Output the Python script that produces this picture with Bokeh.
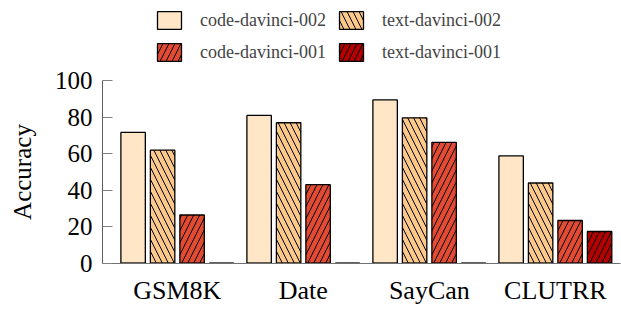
import numpy as np
from bokeh.plotting import figure
from bokeh.layouts import column
from bokeh.models import Range1d, FixedTicker, Legend, LegendItem, ColumnDataSource
from bokeh.transform import dodge
from bokeh.embed import file_html
from bokeh.resources import INLINE

categories = ["GSM8K", "Date", "SayCan", "CLUTRR"]
series_names = ["code-davinci-002", "text-davinci-002", "code-davinci-001", "text-davinci-001"]
code_davinci_002 = [71.6, 80.9, 89.4, 58.8]
text_davinci_002 = [62.0, 76.9, 79.6, 44.0]
code_davinci_001 = [26.5, 43.1, 66.2, 23.5]
text_davinci_001 = [0.0, 0.0, 0.0, 17.5]
y_ticks = [0, 20, 40, 60, 80, 100]

colors = ["#fee6c6", "#fdc98a", "#e34a33", "#b30000"]
hatches = [" ", "\\", "/", "/"]

xpos = np.arange(len(categories)) + 0.5
src = ColumnDataSource(dict(x=xpos, base=np.zeros(len(categories)),
                            s0=code_davinci_002, s1=text_davinci_002,
                            s2=code_davinci_001, s3=text_davinci_001))

SERIF = "Liberation Serif"
bar_style = [dict(fill_color=colors[i], line_color="black", line_width=1.3,
                  hatch_pattern=hatches[i], hatch_color="black", hatch_scale=12, hatch_weight=1)
             for i in range(4)]

# ---- main chart ----
p = figure(width=621, height=243, output_backend="svg", toolbar_location=None,
           x_range=Range1d(-0.094, 4.017), y_range=Range1d(0, 100),
           min_border_left=102, min_border_right=1, min_border_top=14, min_border_bottom=46)
p.outline_line_color = None
p.xgrid.visible = False
p.ygrid.visible = False

bw = 0.194
step = 0.234
offsets = [-1.5 * step, -0.5 * step, 0.5 * step, 1.5 * step]
for i in range(4):
    p.vbar(x=dodge("x", offsets[i], range=p.x_range), top="s%d" % i, bottom=0, width=bw,
           source=src, **bar_style[i])
    # bottom edge of every bar (visible also for zero-height bars)
    p.segment(x0=dodge("x", offsets[i] - bw / 2, range=p.x_range), y0="base",
              x1=dodge("x", offsets[i] + bw / 2, range=p.x_range), y1="base",
              source=src, line_color="black", line_width=2.2)

p.xaxis.ticker = FixedTicker(ticks=list(xpos))
p.xaxis.major_label_overrides = {float(x): c for x, c in zip(xpos, categories)}
p.xaxis.major_tick_line_color = None
p.xaxis.minor_tick_line_color = None
p.xaxis.axis_line_color = "#707070"
p.xaxis.major_label_standoff = 6
p.xaxis.major_label_text_font = SERIF
p.xaxis.major_label_text_font_size = "26px"
p.xaxis.major_label_text_color = "black"

p.yaxis.ticker = FixedTicker(ticks=y_ticks)
p.yaxis.minor_tick_line_color = None
p.yaxis.major_tick_in = 10
p.yaxis.major_tick_out = 0
p.yaxis.major_tick_line_color = "#808080"
p.yaxis.axis_line_color = "#606060"
p.yaxis.major_label_standoff = 10
p.yaxis.major_label_text_font = SERIF
p.yaxis.major_label_text_font_size = "25px"
p.yaxis.major_label_text_color = "black"
p.yaxis.axis_label = "Accuracy"
p.yaxis.axis_label_text_font = SERIF
p.yaxis.axis_label_text_font_size = "25px"
p.yaxis.axis_label_text_font_style = "normal"
p.yaxis.axis_label_text_color = "black"
p.yaxis.axis_label_standoff = 16

# ---- legend strip ----
lf = figure(width=621, height=66, output_backend="svg", toolbar_location=None,
            x_range=Range1d(0, 1), y_range=Range1d(0, 1),
            min_border=0, x_axis_type=None, y_axis_type=None)
lf.outline_line_color = None
lf.xgrid.visible = False
lf.ygrid.visible = False
hidden = ColumnDataSource(dict(x=[np.nan], top=[np.nan]))  # nothing drawn, only legend swatches
legend_renderers = [lf.vbar(x="x", top="top", bottom=0, width=0.01, source=hidden, **bar_style[i])
                    for i in range(4)]
legend = Legend(items=[LegendItem(label=series_names[i], renderers=[legend_renderers[i]]) for i in range(4)],
                orientation="horizontal", ncols=2,
                location=(52, 3), padding=0, margin=0, spacing=10,
                label_text_font=SERIF, label_text_font_size="18px",
                label_standoff=16, glyph_width=30, glyph_height=22, label_height=18,
                border_line_alpha=0, background_fill_alpha=0)
lf.add_layout(legend, "center")

layout = column(lf, p, spacing=0)
open("out.html", "w").write(file_html(layout, INLINE))
